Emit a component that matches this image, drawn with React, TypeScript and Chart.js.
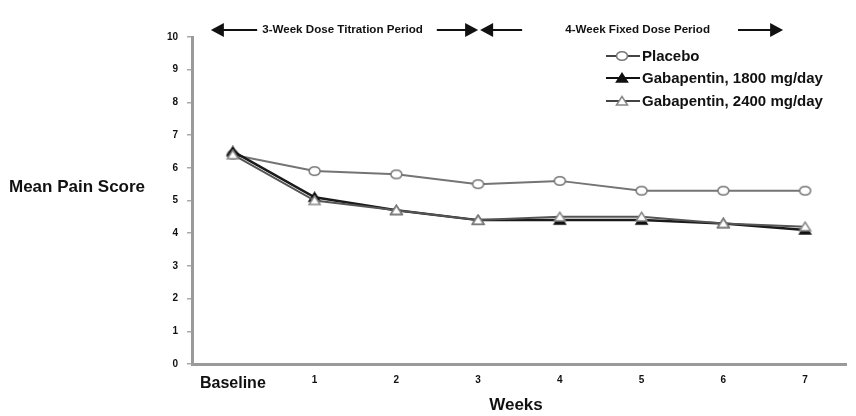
import React, { useEffect, useRef } from "react";
import { Chart, registerables } from "chart.js";

Chart.register(...registerables);

const weekLabels = ["Baseline", "1", "2", "3", "4", "5", "6", "7"];
const placeboValues = [6.4, 5.9, 5.8, 5.5, 5.6, 5.3, 5.3, 5.3];
const gaba1800Values = [6.5, 5.1, 4.7, 4.4, 4.4, 4.4, 4.3, 4.1];
const gaba2400Values = [6.4, 5.0, 4.7, 4.4, 4.5, 4.5, 4.3, 4.2];
const seriesNames = ["Placebo", "Gabapentin, 1800 mg/day", "Gabapentin, 2400 mg/day"];
const periodLabels = ["3-Week Dose Titration Period", "4-Week Fixed Dose Period"];
const yAxisTitle = "Mean Pain Score";
const xAxisTitle = "Weeks";

const FONT = "'Liberation Sans', Arial, sans-serif";

function drawMarker(ctx: CanvasRenderingContext2D, kind: string, x: number, y: number, fill: string, stroke: string) {
  ctx.save();
  ctx.fillStyle = fill;
  ctx.strokeStyle = stroke;
  ctx.lineWidth = 1.5;
  ctx.beginPath();
  if (kind === "circle") {
    ctx.ellipse(x, y, 5.5, 4.3, 0, 0, Math.PI * 2);
  } else {
    ctx.moveTo(x, y - 4.5);
    ctx.lineTo(x + 5.5, y + 4);
    ctx.lineTo(x - 5.5, y + 4);
    ctx.closePath();
  }
  ctx.fill();
  ctx.stroke();
  ctx.restore();
}

function makeMarker(kind: string, fill: string, stroke: string) {
  const c = document.createElement("canvas");
  c.width = 15;
  c.height = 12;
  const ctx = c.getContext("2d") as CanvasRenderingContext2D;
  drawMarker(ctx, kind, 7.5, 6, fill, stroke);
  return c;
}

function arrowHead(ctx: CanvasRenderingContext2D, tipX: number, y: number, dir: number) {
  ctx.beginPath();
  ctx.moveTo(tipX, y);
  ctx.lineTo(tipX - dir * 13, y - 7);
  ctx.lineTo(tipX - dir * 13, y + 7);
  ctx.closePath();
  ctx.fill();
}

const decorPlugin = {
  id: "decor",
  afterDraw(chart: any) {
    const ctx: CanvasRenderingContext2D = chart.ctx;
    const xs = chart.scales.x;
    const area = chart.chartArea;
    ctx.save();
    ctx.fillStyle = "#111";
    ctx.strokeStyle = "#111";
    ctx.lineWidth = 2;

    // Period arrows
    const ay = 30;
    const p0 = xs.getPixelForValue(0) - 22;
    const p3 = xs.getPixelForValue(3);
    const p7 = xs.getPixelForValue(7) - 22;
    ctx.font = `bold 11.6px ${FONT}`;
    ctx.textBaseline = "middle";
    ctx.textAlign = "center";
    const c1 = (p0 + p3) / 2 - 2;
    const w1 = ctx.measureText(periodLabels[0]).width;
    ctx.fillText(periodLabels[0], c1, ay);
    arrowHead(ctx, p0, ay, -1);
    ctx.beginPath();
    ctx.moveTo(p0 + 10, ay);
    ctx.lineTo(c1 - w1 / 2 - 5, ay);
    ctx.moveTo(c1 + w1 / 2 + 14, ay);
    ctx.lineTo(p3 - 8, ay);
    ctx.stroke();
    arrowHead(ctx, p3, ay, 1);

    const c2 = (p3 + p7) / 2 + 7;
    const w2 = ctx.measureText(periodLabels[1]).width;
    ctx.fillText(periodLabels[1], c2, ay);
    arrowHead(ctx, p3 + 2, ay, -1);
    ctx.beginPath();
    ctx.moveTo(p3 + 10, ay);
    ctx.lineTo(p3 + 44, ay);
    ctx.moveTo(c2 + w2 / 2 + 28, ay);
    ctx.lineTo(p7 - 8, ay);
    ctx.stroke();
    arrowHead(ctx, p7, ay, 1);

    // Legend
    const legend = [
      { kind: "circle", fill: "#fff", stroke: "#777", line: "#444" },
      { kind: "triangle", fill: "#111", stroke: "#111", line: "#111" },
      { kind: "triangle", fill: "#fff", stroke: "#888", line: "#444" },
    ];
    const rows = [56, 78, 101];
    ctx.font = `bold 15px ${FONT}`;
    ctx.textAlign = "left";
    legend.forEach((l, i) => {
      const y = rows[i];
      ctx.strokeStyle = l.line;
      ctx.lineWidth = 2;
      ctx.beginPath();
      ctx.moveTo(606, y);
      ctx.lineTo(640, y);
      ctx.stroke();
      drawMarker(ctx, l.kind, 622, y, l.fill, l.stroke);
      ctx.fillStyle = "#111";
      ctx.fillText(seriesNames[i], 642, y + 1);
    });

    // Axis titles
    ctx.fillStyle = "#111";
    ctx.font = `bold 17px ${FONT}`;
    ctx.textAlign = "left";
    ctx.fillText(yAxisTitle, 9, 187);
    ctx.font = `bold 17px ${FONT}`;
    ctx.textAlign = "center";
    ctx.fillText(xAxisTitle, (area.left + area.right) / 2 - 3, 405);
    ctx.restore();
  },
};

export default function App() {
  const ref = useRef<HTMLCanvasElement>(null);
  useEffect(() => {
    document.body.style.margin = "0";
    const circleMk = makeMarker("circle", "#fff", "#777");
    const triFilled = makeMarker("triangle", "#111", "#111");
    const triOpen = makeMarker("triangle", "#fff", "#888");
    const chart = new Chart(ref.current as HTMLCanvasElement, {
      type: "line",
      data: {
        labels: weekLabels,
        datasets: [
          {
            label: seriesNames[0],
            data: placeboValues,
            borderColor: "#747474",
            borderWidth: 2,
            pointStyle: circleMk as any,
            pointRadius: 6,
            order: 2,
          },
          {
            label: seriesNames[1],
            data: gaba1800Values,
            borderColor: "#1a1a1a",
            borderWidth: 2.5,
            pointStyle: triFilled as any,
            pointRadius: 6,
            order: 1,
          },
          {
            label: seriesNames[2],
            data: gaba2400Values,
            borderColor: "#555",
            borderWidth: 2,
            pointStyle: triOpen as any,
            pointRadius: 6,
            order: 0,
          },
        ],
      },
      options: {
        responsive: false,
        animation: false,
        devicePixelRatio: 1,
        layout: { padding: { top: 37, right: 10, left: 0, bottom: 0 } },
        plugins: { legend: { display: false }, tooltip: { enabled: false } },
        scales: {
          x: {
            offset: true,
            grid: { display: false, drawTicks: false },
            border: { display: true, color: "#9a9a9a", width: 3 },
            ticks: {
              color: "#111",
              padding: 10,
              font: (c: any) => ({
                family: FONT,
                weight: "bold",
                size: c.index === 0 ? 16 : 10,
              }),
            },
            afterFit: (s: any) => {
              s.height = 52;
            },
          },
          y: {
            min: 0,
            max: 10,
            ticks: {
              stepSize: 1,
              color: "#111",
              padding: 9,
              font: { family: FONT, weight: "bold", size: 10 },
            },
            grid: {
              display: true,
              drawOnChartArea: false,
              drawTicks: true,
              tickLength: 5,
              color: "#aaa",
              lineWidth: 1.5,
            },
            border: { display: true, color: "#9a9a9a", width: 3 },
            afterFit: (s: any) => {
              s.width = 192;
            },
          },
        },
      },
      plugins: [decorPlugin],
    });
    return () => chart.destroy();
  }, []);
  return (
    <div style={{ position: "fixed", left: 0, top: 0, width: 856, height: 416, background: "#fff" }}>
      <canvas ref={ref} width={856} height={416} />
    </div>
  );
}
